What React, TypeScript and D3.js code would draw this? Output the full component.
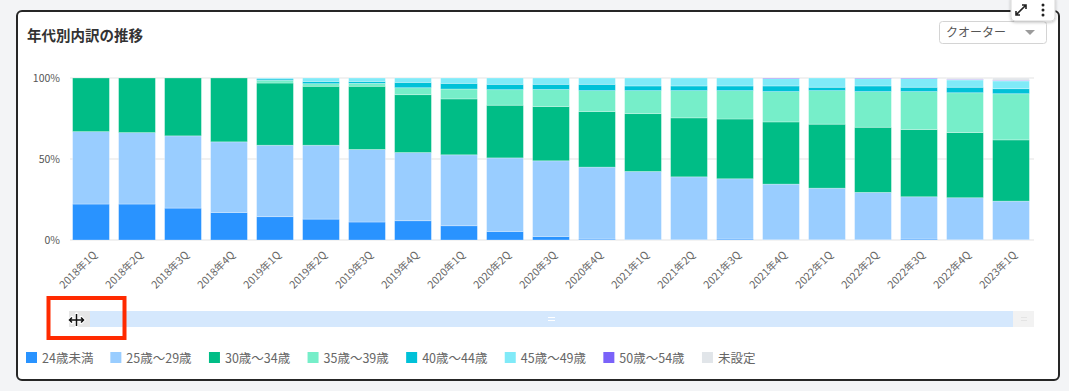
import React, {useEffect, useRef} from 'react';
import * as d3 from 'd3';

// quarters on the x axis
const quarters = [
    '2018年1Q','2018年2Q','2018年3Q','2018年4Q',
    '2019年1Q','2019年2Q','2019年3Q','2019年4Q',
    '2020年1Q','2020年2Q','2020年3Q','2020年4Q',
    '2021年1Q','2021年2Q','2021年3Q','2021年4Q',
    '2022年1Q','2022年2Q','2022年3Q','2022年4Q',
    '2023年1Q'
];

const ageGroups = ['24歳未満','25歳～29歳','30歳～34歳','35歳～39歳','40歳～44歳','45歳～49歳','50歳～54歳','未設定'];
const groupColors = ['#2993ff','#99cdff','#00bd86','#76eec9','#00c1d8','#80eaf8','#7a62f9','#e1e5e9'];

// share (%) per quarter
const under24 = [22.2,22.2,19.7,17.0,14.4,12.9,11.1,11.9,8.8,5.3,2.2,0.6,0.2,0.2,0.6,0.2,0.2,0.2,0.6,0.2,0.2];
const age25to29 = [44.7,44.1,44.6,43.6,44.1,45.6,44.8,42.1,43.8,45.4,46.7,44.4,42.1,38.8,37.2,34.3,31.8,29.2,26.1,25.9,23.8];
const age30to34 = [33.1,33.7,35.7,39.4,38.4,36.4,39.0,35.7,34.5,32.5,33.5,34.3,35.7,36.4,36.9,38.4,39.5,40.2,41.5,40.2,37.8];
const age35to39 = [0,0,0,0,1.7,1.6,1.8,4.3,6.1,9.6,10.5,12.9,14.2,16.8,17.5,18.7,20.7,22.0,23.4,24.6,28.5];
const age40to44 = [0,0,0,0,0.8,1.4,1.2,3.3,3.5,3.3,3.2,3.9,2.9,2.9,2.9,3.5,2.1,3.5,2.7,3.4,3.1];
const age45to49 = [0,0,0,0,0.6,2.1,2.1,2.7,3.3,3.9,3.9,3.9,4.9,4.9,4.9,4.5,5.7,4.5,5.3,4.5,4.8];
const age50to54 = [0,0,0,0,0,0,0,0,0,0,0,0,0,0,0,0.4,0,0.4,0.4,0.4,0.4];
const notSet = [0,0,0,0,0,0,0,0,0,0,0,0,0,0,0,0,0,0,0,0.8,1.4];

const seriesValues = [under24, age25to29, age30to34, age35to39, age40to44, age45to49, age50to54, notSet];

const yTicks = [0, 0.5, 1];

const FONT = '"Noto Sans CJK JP", "Noto Sans", sans-serif';

//rough text width for the legend layout
function textWidth(s, size){
    let w = 0;
    for(const c of s){
        if(/[0-9]/.test(c)) w += size*0.57;
        else w += size;
    }
    return w;
}

export default function App(){
    const svgRef = useRef(null);
    const width = 1069;
    const height = 391;

    useEffect(()=>{
        const svg = d3.select(svgRef.current);
        svg.selectAll('*').remove();

        // card
        svg.append('rect').attr('x',0).attr('y',0).attr('width',width).attr('height',height).attr('fill','#f3f4f6');
        svg.append('rect')
            .attr('x',17).attr('y',11).attr('width',1042).attr('height',369)
            .attr('rx',5).attr('fill','#fff').attr('stroke','#262626').attr('stroke-width',2);

        svg.append('text')
            .attr('x',27).attr('y',41)
            .attr('font-family',FONT).attr('font-size',14.5).attr('font-weight','bold')
            .attr('fill','#333')
            .text('年代別内訳の推移');

        // dropdown
        svg.append('rect').attr('x',939.5).attr('y',21.5).attr('width',107).attr('height',22)
            .attr('rx',3).attr('fill','#fff').attr('stroke','#d4d4d4');
        svg.append('text').attr('x',946).attr('y',37)
            .attr('font-family',FONT).attr('font-size',12).attr('fill','#555')
            .text('クオーター');
        svg.append('path').attr('d','M1025,30 L1035,30 L1030,35 Z').attr('fill','#9b9b9b');

        // the little toolbar in the corner
        const defs = svg.append('defs');
        const f = defs.append('filter').attr('id','shadow').attr('x','-30%').attr('y','-30%').attr('width','160%').attr('height','160%');
        f.append('feDropShadow').attr('dx',0).attr('dy',1).attr('stdDeviation',1.5).attr('flood-opacity',0.25);
        svg.append('rect').attr('x',1011).attr('y',-5).attr('width',44).attr('height',26)
            .attr('rx',4).attr('fill','#fff').attr('stroke','#d8d8d8').attr('filter','url(#shadow)');
        svg.append('path')
            .attr('d','M1016,15 L1026,5 M1022,5 L1026,5 L1026,9 M1016,11 L1016,15 L1020,15')
            .attr('fill','none').attr('stroke','#222').attr('stroke-width',1.6);
        [5,10,15].forEach(cy=>{
            svg.append('circle').attr('cx',1043).attr('cy',cy).attr('r',1.5).attr('fill','#222');
        });

        // data table + stack
        const table = quarters.map((q,i)=>{
            const row = {quarter:q};
            ageGroups.forEach((g,j)=>{ row[g] = seriesValues[j][i]; });
            return row;
        });
        const stacked = d3.stack().keys(ageGroups).offset(d3.stackOffsetExpand)(table);

        const xScale = d3.scaleBand()
            .domain(quarters)
            .range([68,1034])
            .paddingInner(0.2)
            .paddingOuter(0.1);

        const yScale = d3.scaleLinear()
            .domain([0,1])
            .range([240,78]);

        // grid
        svg.append('g').selectAll('line').data(yTicks).enter().append('line')
            .attr('x1',70).attr('x2',1034)
            .attr('y1',d=>yScale(d)).attr('y2',d=>yScale(d))
            .attr('stroke','#e3e3e3').attr('stroke-width',1);

        svg.append('g').selectAll('text').data(yTicks).enter().append('text')
            .attr('x',60).attr('y',d=>yScale(d)).attr('dy','0.35em')
            .attr('text-anchor','end')
            .attr('font-family',FONT).attr('font-size',10.5).attr('fill','#555')
            .text(d=>d3.format('.0%')(d));

        // bars
        const layers = svg.append('g').selectAll('g').data(stacked).enter().append('g')
            .attr('fill',(d,i)=>groupColors[i]);
        layers.selectAll('rect').data(d=>d.filter(p=>p[1]-p[0]>0)).enter().append('rect')
            .attr('x',d=>xScale(d.data.quarter))
            .attr('width',xScale.bandwidth())
            .attr('y',d=>yScale(d[1]))
            .attr('height',d=>yScale(d[0])-yScale(d[1]))
            .attr('stroke','#fff').attr('stroke-opacity',0.35).attr('stroke-width',0.8);

        // x labels
        svg.append('g').selectAll('text').data(quarters).enter().append('text')
            .attr('transform',d=>'translate(' + (xScale(d)+xScale.bandwidth()/2+4) + ',253)rotate(-45)')
            .attr('text-anchor','end')
            .attr('dy','0.35em')
            .attr('font-family',FONT).attr('font-size',10.5).attr('fill','#666')
            .text(d=>d);

        // slider
        const slider = svg.append('g');
        slider.append('rect').attr('x',69).attr('y',311).attr('width',965).attr('height',16).attr('fill','#f2f2f2');
        slider.append('rect').attr('x',69).attr('y',311).attr('width',21).attr('height',16).attr('fill','#e6e6e6');
        slider.append('rect').attr('x',90).attr('y',311).attr('width',923).attr('height',16).attr('fill','#d5e8fd');
        [317.5,320.5].forEach(y=>{
            slider.append('line').attr('x1',548).attr('x2',555).attr('y1',y).attr('y2',y).attr('stroke','#fff').attr('stroke-width',1);
            slider.append('line').attr('x1',1021).attr('x2',1027).attr('y1',y).attr('y2',y).attr('stroke','#e4e4e4').attr('stroke-width',1);
        });

        // cursor
        const cur = 'M69.5,320 L83.5,320 M72,317.5 L69.5,320 L72,322.5 M81,317.5 L83.5,320 L81,322.5 M76.5,314 L76.5,326';
        svg.append('path').attr('d',cur).attr('fill','none').attr('stroke','#fff').attr('stroke-width',3.5).attr('stroke-linecap','round');
        svg.append('path').attr('d',cur).attr('fill','none').attr('stroke','#111').attr('stroke-width',1.5);

        // red highlight box
        svg.append('rect').attr('x',48.5).attr('y',298).attr('width',76).attr('height',40)
            .attr('fill','none').attr('stroke','#ff2a00').attr('stroke-width',4);

        // legend
        const legend = svg.append('g');
        let lx = 26;
        ageGroups.forEach((g,i)=>{
            legend.append('rect').attr('x',lx).attr('y',352).attr('width',11).attr('height',11).attr('fill',groupColors[i]);
            legend.append('text').attr('x',lx+16).attr('y',363)
                .attr('font-family',FONT).attr('font-size',12.5).attr('fill','#666')
                .text(g);
            lx += 16 + textWidth(g,12.5) + 16.6;
        });
    },[]);

    return (
        <div style={{position:'fixed',left:0,top:0,width:width,height:height,background:'#f3f4f6'}}>
            <svg ref={svgRef} width={width} height={height} style={{display:'block'}}></svg>
        </div>
    );
}
